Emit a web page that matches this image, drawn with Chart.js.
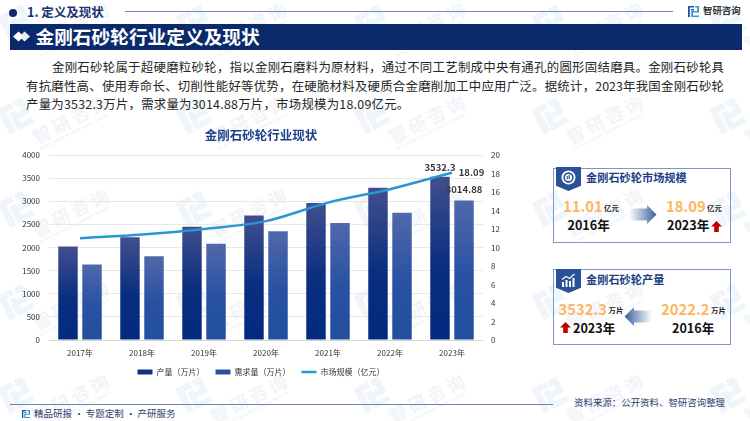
<!DOCTYPE html>
<html lang="zh">
<head>
<meta charset="utf-8">
<script src="https://cdn.jsdelivr.net/npm/chart.js@4"></script>
<style>
html,body{margin:0;padding:0;background:#fff;}
body{width:750px;height:421px;position:relative;overflow:hidden;font-family:"Noto Sans CJK SC","Noto Sans",sans-serif;}
.a{position:absolute;white-space:nowrap;line-height:1;}
.wm{position:absolute;transform-origin:0 50%;transform:rotate(-27deg);color:#f1f4f8;font-weight:700;font-size:18px;letter-spacing:3.5px;line-height:1;white-space:nowrap;}
.wm small{display:block;font-size:4px;font-weight:400;letter-spacing:.4px;margin-top:3px;font-family:"Liberation Sans",sans-serif;color:#e6ebf2;}
.wl{position:absolute;}
.p{position:absolute;color:#262626;font-size:12.4px;line-height:1;white-space:nowrap;}
.j{white-space:normal;text-align:justify;text-align-last:justify;}
.card{position:absolute;left:552.5px;width:178px;height:75px;border:1px solid #7f97c6;box-sizing:border-box;}
.tab{position:absolute;left:556px;width:25px;height:24px;background:#2a5298;clip-path:polygon(0 0,100% 0,100% 78%,50% 100%,0 78%);}
#wrap{position:absolute;left:0;top:120px;width:522px;height:265px;}
.big{font-size:14.8px;font-weight:700;color:#fbb661;}
</style>
</head>
<body>
<div id="wms"></div>

<!-- header -->
<div class="a" style="left:9px;top:9px;width:8px;height:8px;border-radius:50%;background:#0d2a6b"></div>
<div class="a" style="left:27px;top:6px;font-size:12.5px;font-weight:700;color:#1b3370">1. 定义及现状</div>
<div class="a" style="left:125px;top:11px;width:548px;height:1px;background:#7488bd"></div>
<svg class="a" style="left:688px;top:6px" width="11" height="11" viewBox="0 0 11 11"><path d="M0 0h6v1.6H1.8V11H0z M3 3h3v1.6H3z" fill="#1f4f9e"/><path d="M7.2 0H11v6.5H5v3h6V11H3.2V5H9.2V1.6H7.2z" fill="#2e9bd6"/></svg>
<div class="a" style="left:703px;top:6px;font-size:9.4px;font-weight:700;color:#333">智研咨询</div>
<div class="a" style="left:9.5px;top:23.5px;width:732.5px;height:26px;background:#0b2a6c"></div>
<svg class="a" style="left:13px;top:31px" width="18" height="11" viewBox="0 0 18 11"><path d="M5.5 0.5 11 5.5 5.5 10.5 0 5.5z" fill="#fff"/><path d="M11.5 0.5 17 5.5 11.5 10.5 8.5 7.5 10.5 5.5 8.5 3.5z" fill="#e8edf6"/></svg>
<div class="a" style="left:35.5px;top:27px;font-size:18.7px;font-weight:700;color:#fff">金刚石砂轮行业定义及现状</div>

<!-- paragraph -->
<div class="p j" style="left:52px;top:60.5px;width:672px">金刚石砂轮属于超硬磨粒砂轮，指以金刚石磨料为原材料，通过不同工艺制成中央有通孔的圆形固结磨具。金刚石砂轮具</div>
<div class="p j" style="left:26px;top:79.5px;width:698px">有抗磨性高、使用寿命长、切削性能好等优势，在硬脆材料及硬质合金磨削加工中应用广泛。据统计，2023年我国金刚石砂轮</div>
<div class="p" style="left:26px;top:98px;letter-spacing:.25px">产量为3532.3万片，需求量为3014.88万片，市场规模为18.09亿元。</div>

<!-- chart -->
<div id="wrap"><canvas id="c" width="522" height="265"></canvas></div>

<!-- card 1 -->
<div class="card" style="top:167.5px"></div>
<div class="tab" style="top:167px"></div>
<svg class="a" style="left:561px;top:170px" width="15" height="15" viewBox="0 0 15 15"><circle cx="7.5" cy="7.5" r="7" fill="#fff"/><circle cx="7.5" cy="7.5" r="4.4" fill="none" stroke="#2a5298" stroke-width="1.6"/><rect x="5.6" y="6" width="1.2" height="3.2" fill="#2a5298"/><rect x="7.6" y="5" width="1.2" height="4.2" fill="#2a5298"/></svg>
<div class="a" style="left:586px;top:172px;font-size:11.2px;font-weight:700;color:#1e3f86">金刚石砂轮市场规模</div>
<div class="a big" style="left:563px;top:199px">11.01</div>
<div class="a" style="left:604px;top:203.5px;font-size:7.4px;font-weight:700;color:#222">亿元</div>
<div class="a" style="left:567.5px;top:219px;font-size:12.6px;font-weight:700;color:#111">2016年</div>
<svg class="a" style="left:629px;top:205px" width="28" height="20" viewBox="0 0 28 20"><defs><linearGradient id="g1" x1="0" x2="1" y1="0" y2="0"><stop offset="0" stop-color="#fff"/><stop offset="1" stop-color="#365f9f"/></linearGradient></defs><path d="M0 3.5H18V0L27.5 9.5 18 19V15.5H0z" fill="url(#g1)"/></svg>
<div class="a big" style="left:666px;top:199px">18.09</div>
<div class="a" style="left:707px;top:203.5px;font-size:7.4px;font-weight:700;color:#222">亿元</div>
<div class="a" style="left:667px;top:219px;font-size:12.6px;font-weight:700;color:#111">2023年</div>
<svg class="a" style="left:711px;top:221px" width="11" height="11" viewBox="0 0 11 11"><path d="M5.5 0 11 5.6H7.8V11H3.2V5.6H0z" fill="#c00000"/></svg>

<!-- card 2 -->
<div class="card" style="top:269px;height:76px"></div>
<div class="tab" style="top:269px"></div>
<svg class="a" style="left:561px;top:273px" width="15" height="14" viewBox="0 0 15 14"><g fill="#fff"><rect x="1" y="9" width="2" height="5"/><rect x="4.5" y="7" width="2" height="7"/><rect x="8" y="8" width="2" height="6"/><rect x="11.5" y="5" width="2" height="9"/></g><path d="M1 6.5 5 3.5 8.5 5.5 13.5 1" fill="none" stroke="#fff" stroke-width="1.2"/></svg>
<div class="a" style="left:586px;top:273.5px;font-size:11.2px;font-weight:700;color:#1e3f86">金刚石砂轮产量</div>
<div class="a big" style="left:558.5px;top:302px">3532.3</div>
<div class="a" style="left:608.5px;top:306px;font-size:7.4px;font-weight:700;color:#222">万片</div>
<svg class="a" style="left:560px;top:322px" width="11" height="11" viewBox="0 0 11 11"><path d="M5.5 0 11 5.6H7.8V11H3.2V5.6H0z" fill="#c00000"/></svg>
<div class="a" style="left:573px;top:322px;font-size:12.6px;font-weight:700;color:#111">2023年</div>
<svg class="a" style="left:624px;top:307px" width="28" height="20" viewBox="0 0 28 20"><defs><linearGradient id="g2" x1="1" x2="0" y1="0" y2="0"><stop offset="0" stop-color="#fff"/><stop offset="1" stop-color="#365f9f"/></linearGradient></defs><path d="M28 3.5H10V0L0.5 9.5 10 19V15.5H28z" fill="url(#g2)"/></svg>
<div class="a big" style="left:661px;top:302px">2022.2</div>
<div class="a" style="left:711px;top:306px;font-size:7.4px;font-weight:700;color:#222">万片</div>
<div class="a" style="left:672px;top:322px;font-size:12.6px;font-weight:700;color:#111">2016年</div>

<!-- footer -->
<div class="a" style="left:9.5px;top:403.5px;width:543.5px;height:1.2px;background:#6f83b3"></div>
<svg class="a" style="left:22px;top:410px" width="8" height="8" viewBox="0 0 11 11"><path d="M0 0h6v1.6H1.8V11H0z M3 3h3v1.6H3z" fill="#1f4f9e"/><path d="M7.2 0H11v6.5H5v3h6V11H3.2V5H9.2V1.6H7.2z" fill="#2e9bd6"/></svg>
<div class="a" style="left:34px;top:409px;font-size:9.5px;color:#2f4270">精品研报 · 专题定制 · 产研服务</div>
<div class="a" style="left:574px;top:398px;font-size:9.45px;color:#2f4270">资料来源：公开资料、智研咨询整理</div>

<script>
const categories = ['2017年','2018年','2019年','2020年','2021年','2022年','2023年'];
const output = [2022.2, 2220, 2450, 2690, 2960, 3290, 3532.3];
const demand = [1630, 1810, 2080, 2350, 2530, 2750, 3014.88];
const market = [11.01, 11.4, 12.0, 12.85, 14.85, 16.3, 18.09];
const seriesNames = ['产量（万片）','需求量（万片）','市场规模（亿元）'];
const leftTicks = [0,500,1000,1500,2000,2500,3000,3500,4000];
const rightTicks = [0,2,4,6,8,10,12,14,16,18,20];
const chartTitle = '金刚石砂轮行业现状';

// watermark grid
const wms = document.getElementById('wms');
for (let r = -1; r < 5; r++) for (let c = 0; c < 5; c++) {
  const x = c * 178 + 1, y = r * 93 + 102;
  wms.insertAdjacentHTML('beforeend',
   `<svg class="wl" style="left:${x}px;top:${y}px;transform:rotate(-27deg)" width="30" height="28" viewBox="0 0 11 11"><path d="M0 0h6.2v2.6H2.8V11H0z M3.6 3.4h2.6V6H3.6z" fill="#f1f5fa"/><path d="M7.2 0H11v7H6v1.6h5V11H3.6V4.6H8.4V2.6H7.2z" fill="#edf6fb"/></svg>
    <div class="wm" style="left:${x+34}px;top:${y+26}px">智研咨询<small>INTELLIGENCE RESEARCH GROUP</small></div>`);
}

function grad(stops){
  return (ctx)=>{
    const a = ctx.chart.chartArea;
    if(!a) return stops[1];
    const el = ctx.parsed ? ctx.chart.scales.y.getPixelForValue(ctx.parsed.y) : a.top;
    const gg = ctx.chart.ctx.createLinearGradient(0,el,0,a.bottom);
    gg.addColorStop(0,stops[0]); gg.addColorStop(.55,stops[1]); gg.addColorStop(1,stops[2]);
    return gg;
  };
}
const font = {family:'"Noto Sans CJK SC","Noto Sans",sans-serif'};
const labelPlugin = {
  id:'vals',
  beforeInit(ch){
    const fit = ch.legend.fit;
    ch.legend.fit = function(){ fit.call(this); this.height = 14; };
  },
  afterLayout(ch){
    ch.legend.top = ch.legend.bottom - 21;
  },
  afterDatasetsDraw(ch){
    const c = ch.ctx; c.save();
    c.font = '700 9.5px '+font.family; c.fillStyle='#3a3a3a'; c.textAlign='center'; c.textBaseline='middle';
    const last = categories.length-1;
    const b0 = ch.getDatasetMeta(0).data[last], b1 = ch.getDatasetMeta(1).data[last], l = ch.getDatasetMeta(2).data[last];
    c.fillText(String(output[last]), b0.x, b0.y-9);
    c.fillText(String(demand[last]), b1.x, b1.y-11.5);
    c.fillText(String(market[last]), l.x+19.5, l.y);
    c.restore();
  }
};
new Chart(document.getElementById('c'),{
  data:{labels:categories,datasets:[
    {type:'bar',label:seriesNames[0],data:output,yAxisID:'y',backgroundColor:grad(['#424f8e','#0a2e80','#012a7e']),categoryPercentage:.775,barPercentage:.81,order:1},
    {type:'bar',label:seriesNames[1],data:demand,yAxisID:'y',backgroundColor:grad(['#5068ab','#2851a3','#224f9e']),categoryPercentage:.775,barPercentage:.81,order:1},
    {type:'line',label:seriesNames[2],data:market,yAxisID:'y1',borderColor:'#2a97d4',backgroundColor:'#2a97d4',borderWidth:2.5,pointRadius:0,cubicInterpolationMode:'monotone',order:0}
  ]},
  options:{
    responsive:false,animation:false,devicePixelRatio:1,
    layout:{padding:{left:0,right:0,top:0,bottom:7}},
    scales:{
      x:{grid:{display:false,drawTicks:false},border:{color:'#d9d9d9'},ticks:{color:'#333',font:{...font,size:8},padding:8,maxRotation:0},afterFit(s){s.height=24;}},
      y:{position:'left',min:0,max:4000,afterBuildTicks(s){s.ticks=leftTicks.map(v=>({value:v}));},grid:{color:'#e8e8e8',drawTicks:false},border:{display:false},ticks:{color:'#333',font:{...font,size:8},padding:9,callback:v=>String(v)},afterFit(s){s.width=49;}},
      y1:{position:'right',min:0,max:20,afterBuildTicks(s){s.ticks=rightTicks.map(v=>({value:v}));},grid:{display:false,drawTicks:false},border:{display:false},ticks:{color:'#333',font:{...font,size:8},padding:8,callback:v=>String(v)},afterFit(s){s.width=39;}}
    },
    plugins:{
      title:{display:true,text:chartTitle,color:'#1e3f86',font:{...font,size:12.5,weight:'700'},padding:{top:8,bottom:12}},
      legend:{position:'bottom',labels:{usePointStyle:true,pointStyleWidth:15,boxHeight:5,padding:11,color:'#333',font:{...font,size:8},
        generateLabels(ch){
          return [[0,'#0f3285','rect'],[1,'#2851a3','rect'],[2,'#2a97d4','line']].map(([i,col,ps])=>({
            text:ch.data.datasets[i].label,fillStyle:col,strokeStyle:col,lineWidth:ps==='line'?2.5:0,pointStyle:ps,datasetIndex:i,fontColor:'#333'}));
        }}},
      tooltip:{enabled:false}
    }
  },
  plugins:[labelPlugin]
});
</script>
</body>
</html>
